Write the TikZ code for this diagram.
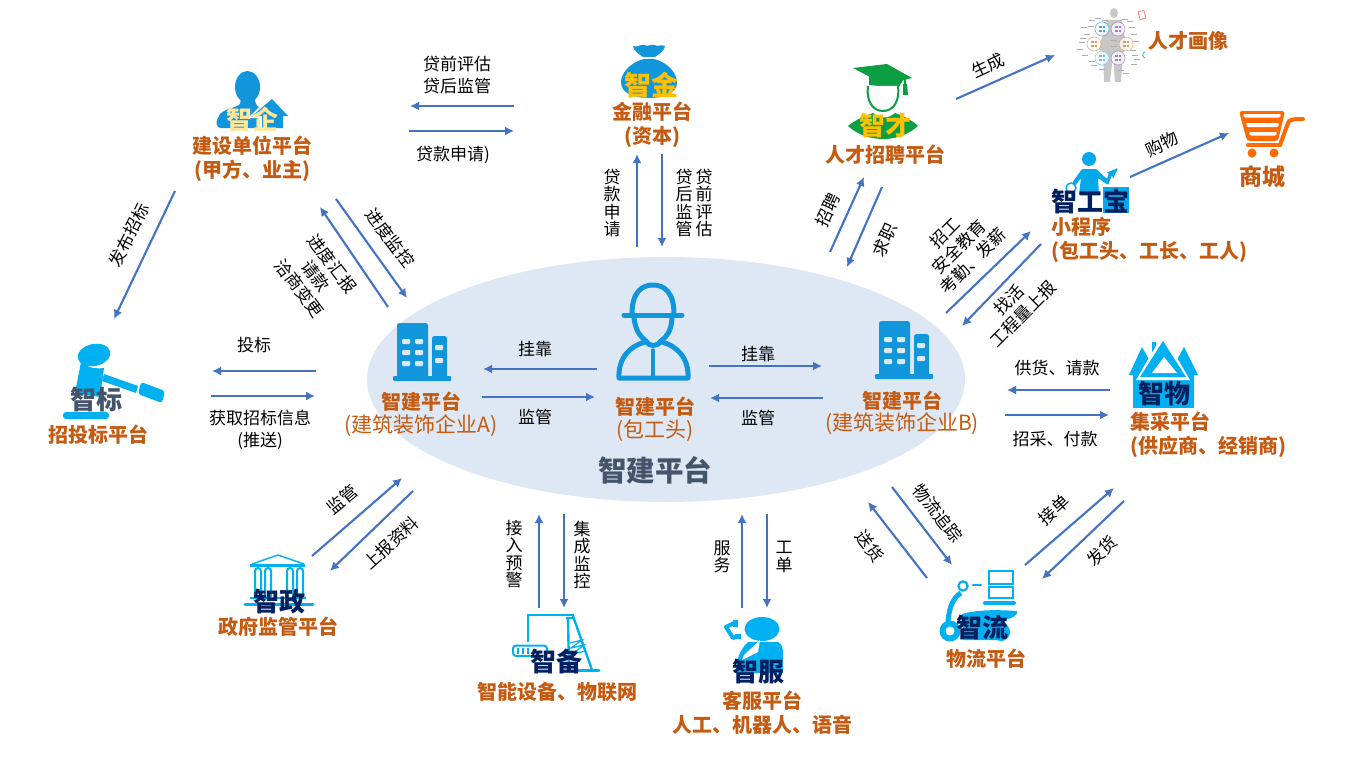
\documentclass[tikz,border=0pt]{standalone}
\usepackage{fontspec}
\setmainfont{Noto Sans CJK SC}
\usetikzlibrary{arrows.meta,calc,shapes.geometric}
\definecolor{flowblue}{HTML}{4472C4}
\definecolor{platorange}{HTML}{C55A11}
\definecolor{iconblue}{HTML}{1296DB}
\definecolor{skyblue}{HTML}{00B0F0}
\definecolor{navy}{HTML}{002060}
\definecolor{slate}{HTML}{44546A}
\definecolor{cloud}{HTML}{DEE8F4}
\definecolor{gold}{HTML}{FFC000}
\definecolor{pale}{HTML}{FFE699}
\definecolor{leaf}{HTML}{0B9E43}
\definecolor{cartorange}{HTML}{FF6A00}
\definecolor{dotblue}{HTML}{3FA9DC}
\definecolor{dotcyan}{HTML}{6CC5E0}
\definecolor{dotviolet}{HTML}{A07CC8}
\definecolor{dotorange}{HTML}{E39A62}
\newcommand{\fs}[1]{\fontsize{#1}{#1}\selectfont}
\newcommand{\flowlink}[3]{%
  \coordinate (#1-a) at #2;
  \coordinate (#1-b) at #3;
  \draw[flow] (#1-a) -- (#1-b);}
\tikzset{
  flow/.style={draw=flowblue,line width=2.1pt,-{Latex[length=9pt,width=9pt]}},
  note/.style={inner sep=0pt,align=center,text=black,font=\fontsize{17}{21.5}\selectfont},
  vnote/.style={inner sep=0pt,align=center,text=black,font=\fontsize{17}{17.6}\selectfont},
  plat/.style={inner sep=0pt,align=center,text=platorange,font=\bfseries\fontsize{20}{24}\selectfont},
  platleft/.style={plat,align=left,anchor=west},
  sub/.style={inner sep=0pt,align=center,text=platorange,font=\fontsize{21}{24}\selectfont},
  brand/.style={inner sep=0pt,align=center,font=\bfseries\fontsize{26}{26}\selectfont},
  tower/.pic={
    \fill[iconblue,rounded corners=2.5pt] (0,57) -- (0,0) -- (31,0) -- (31,57) -- cycle;
    \fill[iconblue,rounded corners=2.5pt] (35,57) -- (35,13) -- (50,13) -- (50,57) -- cycle;
    \fill[iconblue,rounded corners=1pt] (-4,53) rectangle (54,58);
    \foreach \wy in {16,27,38} {
      \fill[cloud,rounded corners=1pt] (5,\wy) rectangle (13,\wy+5);
      \fill[cloud,rounded corners=1pt] (18,\wy) rectangle (26,\wy+5);
    }
    \foreach \wy in {22,35} \fill[cloud,rounded corners=1pt] (38,\wy) rectangle (46,\wy+5);
  }
}
\begin{document}
\begin{tikzpicture}[x=1pt,y=-1pt]
\useasboundingbox (0,0) rectangle (1366,768);
\fill[white] (0,0) rectangle (1366,768);

% central platform area
\node[ellipse,minimum width=598pt,minimum height=245pt,inner sep=0pt,fill=cloud,draw=none] (hub) at (666,379.5) {};

% company towers
\pic at (397,323) {tower};
\pic at (879,321) {tower};

% site foreman
\begin{scope}[draw=iconblue,line width=5pt,line cap=round,line join=round]
  \draw (632,314) .. controls (632,292) and (642,285) .. (653,285) .. controls (664,285) and (674,292) .. (674,314);
  \draw (624,315) -- (682,315);
  \draw (634,318) .. controls (636,332) and (640,336) .. (646,341) .. controls (648,347) and (658,347) .. (661,341) .. controls (667,336) and (671,332) .. (672,318);
  \draw (645,342) .. controls (630,346) and (618,358) .. (619,378) -- (688,378) .. controls (689,358) and (677,346) .. (662,342);
  \draw[line width=3.4pt] (653,350) -- (653,377);
\end{scope}

% client with house
\fill[iconblue] (247.5,87) ellipse (12.5pt and 16pt);
\fill[iconblue] (241,99) -- (254,99) -- (257,106) .. controls (266,110) and (270,116) .. (270,128) -- (222,128) .. controls (214,128) and (216,120) .. (220,114) .. controls (226,108) and (236,108) .. (240,104) -- cycle;
\fill[white] (272,94) -- (294,118) -- (287,118) -- (287,130) -- (258,130) -- (258,118) -- (248,118) -- cycle;
\fill[iconblue] (272,99) -- (288,116) -- (283,116) -- (283,128) -- (262,128) -- (262,116) -- (252,116) -- cycle;

% gavel
\begin{scope}[skyblue]
  \fill[rotate around={12:(94,355)}] (94,355) ellipse (16.5pt and 11pt);
  \fill (81,362) .. controls (88,368) and (96,369) .. (104,368) -- (100,397) -- (75,393) -- cycle;
  \fill (104,374) -- (138,386) -- (136,393) -- (102,381) -- cycle;
  \fill[rounded corners=3pt] (141,382) -- (165,391) -- (162,403) -- (138,394) -- cycle;
  \fill[rounded corners=3pt] (63,412) rectangle (109,419);
\end{scope}

% money bag
\begin{scope}[iconblue]
  \fill (633,46) .. controls (638,48) and (640,44) .. (644,45) .. controls (648,47) and (651,44) .. (654,45) .. controls (658,47) and (661,44) .. (665,46) .. controls (665,50) and (658,55) .. (655,57) -- (643,57) .. controls (640,55) and (633,50) .. (633,46) -- cycle;
  \fill (644,59) -- (654,59) .. controls (670,63) and (677,75) .. (677,82) .. controls (677,93) and (665,98) .. (649,98) .. controls (633,98) and (621,93) .. (621,82) .. controls (621,75) and (628,63) .. (644,59) -- cycle;
\end{scope}

% graduate
\begin{scope}[leaf]
  \fill (853,68) -- (887,64) -- (912,78) -- (885,85) -- cycle;
  \fill (869,73) -- (904,79) -- (898,88) -- (869,85) -- cycle;
  \draw[line width=1.6pt] (905,76) -- (905,86);
  \fill (903,84) -- (907,84) -- (908,95) -- (903,95) -- cycle;
  \draw[line width=2pt,fill=white] (868,86) .. controls (866,100) and (872,111) .. (883,111) .. controls (894,111) and (900,100) .. (898,86);
  \fill (848,126) .. controls (855,120) and (865,116) .. (873,113) .. controls (880,119) and (888,119) .. (895,113) .. controls (903,116) and (912,120) .. (918,126) .. controls (908,135) and (895,139) .. (884,139) .. controls (870,139) and (858,135) .. (848,126) -- cycle;
\end{scope}

% talent profile chart
\begin{scope}
  \fill[black!22] (1114,13) ellipse (4pt and 5pt);
  \fill[black!22] (1106,20) -- (1122,20) -- (1127,50) -- (1123,52) -- (1121,82) -- (1115,82) -- (1113,55) -- (1110,82) -- (1104,82) -- (1103,52) -- (1099,50) -- cycle;
  \foreach \px/\py/\pc in {1102/29/dotblue,1118/29/dotviolet,1094/44/dotorange,1126/44/dotorange,1102/58/dotcyan,1118/58/dotviolet} {
    \draw[\pc,draw opacity=.7,fill=white,fill opacity=.75,line width=.7pt] (\px,\py) circle (7pt);
    \foreach \qx/\qy in {-3/-2.5,0.5/-2.5,-3/1,0.5/1}
      \fill[\pc] (\px+\qx,\py+\qy) rectangle (\px+\qx+2.5,\py+\qy+1.6);
  }
  \foreach \tx/\ty in {1098/18,1105/20,1092/20,1091/26,1084/27,1087/34,1083/38,1082/42,1080/49,1085/55,1092/61,1094/65,1102/69,1125/19,1130/21,1132/27,1134/34,1136/41,1133/50,1135/55,1137/59,1134/64,1121/70,1126/73,1114/40,1114/46} {
    \draw[black!32,line width=.8pt] (\tx-3,\ty) -- (\tx+3,\ty);
  }
  \draw[red!45,line width=.9pt,rotate around={15:(1142,15)}] (1139,11) rectangle (1145,19);
  \fill[orange!80] (1149,48) circle (1pt);
  \draw[dotblue,line width=.9pt] (1145,52) .. controls (1142,53) and (1142,57) .. (1145,58);
\end{scope}

% shopping cart
\begin{scope}[cartorange]
  \fill[rounded corners=3pt] (1239,111) -- (1285,111) -- (1278,141) -- (1247,141) -- cycle;
  \fill[white,rounded corners=1pt] (1243,114) -- (1281,114) -- (1280,117.5) -- (1244,117.5) -- cycle;
  \fill[white,rounded corners=1pt] (1246,123) -- (1279,123) -- (1278,127) -- (1247,127) -- cycle;
  \fill[white,rounded corners=1pt] (1249,132) -- (1277,132) -- (1276,135.5) -- (1250,135.5) -- cycle;
  \draw[line width=4pt,line cap=round,line join=round] (1280,145) -- (1288,123) .. controls (1289,120) and (1291,119) .. (1303,119);
  \draw[line width=4pt,line cap=round] (1248,145) -- (1280,145);
  \fill (1252,153) circle (4.5pt);
  \fill (1274,153) circle (4.5pt);
\end{scope}

% worker with rising arrow
\begin{scope}[skyblue!70!iconblue]
  \fill (1103,187) rectangle (1129,213);
  \fill (1089,159) circle (7pt);
  \fill[rounded corners=1pt] (1082,169) -- (1096,169) -- (1107,179) -- (1109,173) -- (1106,173) -- (1118,168) -- (1113,179) -- (1112,175) -- (1108,185) -- (1098,178) -- (1099,195) -- (1079,195) -- (1081,178) -- (1075,186) -- (1072,183) -- cycle;
  \draw[line width=1.4pt,fill=white] (1071,188) circle (5pt);
\end{scope}

% supplier houses
\begin{scope}[skyblue]
  \fill (1133,375) rectangle (1194,408);
  \fill (1129,375) -- (1142,347) -- (1156,372) -- (1170,372) -- (1184,347) -- (1198,375) -- cycle;
  \fill (1152,342) rectangle (1156,352);
  \fill[white] (1163,334) -- (1190,380) -- (1136,380) -- cycle;
  \fill (1163,341) -- (1186,377) -- (1140,377) -- cycle;
  \fill[white] (1164,357) -- (1177,373) -- (1152,373) -- cycle;
\end{scope}

% delivery scooter
\begin{scope}[skyblue]
  \draw[line width=2pt] (989,571) rectangle (1013,584);
  \draw[line width=2pt] (989,587) rectangle (1013,598);
  \draw[line width=4pt,line cap=round] (985,603) -- (1014,603);
  \draw[line width=2.2pt] (963,586) circle (4.6pt);
  \draw[line width=2.2pt,line cap=round] (973,585) -- (981,585);
  \draw[line width=5pt] (961,593) .. controls (954,597) and (949,606) .. (948,622);
  \fill (962,614) .. controls (980,609) and (1000,610) .. (1017,611) .. controls (1019,615) and (1012,618) .. (1005,620) -- (1005,640) -- (964,640) -- cycle;
  \fill (950,631) circle (10.5pt);
  \fill[white] (950,631) circle (4.5pt);
  \fill (1001,632) circle (9pt);
\end{scope}

% government building
\begin{scope}[skyblue]
  \draw[line width=1.4pt,line join=round] (252,564) -- (278,555) -- (304,564);
  \draw[line width=2.4pt] (250,565.5) -- (305,565.5);
  \foreach \cx in {255,265,287,297} {
    \draw[line width=2pt] (\cx,597) -- (\cx,571) arc (180:0:3pt) -- (\cx+6,597);
  }
  \draw[line width=2pt] (250,598) -- (306,598);
  \draw[line width=3pt,line cap=round] (245,604) -- (313,604);
\end{scope}

% monitoring device
\begin{scope}[skyblue]
  \draw[line width=2pt] (527,614.5) -- (574,614.5);
  \draw[line width=1.6pt] (528,615) -- (528,642);
  \draw[line width=2.4pt] (573,616) -- (592,670);
  \draw[line width=2.4pt] (566,618) -- (574,618) (568,618) -- (569,670);
  \draw[line width=1.2pt] (570,643) -- (582,640) -- (571,648) -- (584,645) -- (572,654) -- (586,651);
  \draw[line width=2pt,rounded corners=3pt] (513,645.5) rectangle (547,656);
  \draw[line width=1.4pt] (518,648) -- (518,654) (523,648) -- (523,654) (528,648) -- (528,654);
  \draw[line width=3pt,line cap=round] (577,670) -- (599,670);
\end{scope}

% service agent
\begin{scope}[skyblue]
  \fill (762,629) ellipse (17.5pt and 12pt);
  \draw[line width=4pt,line join=round] (736,622) -- (726,627) -- (733,638) -- (738,636);
  \fill (733,620) rectangle (738,627);
  \fill (735,634) rectangle (741,639);
  \fill (748,642) -- (778,642) .. controls (782,644) and (783,648) .. (783,654) -- (783,673) -- (736,673) .. controls (737,660) and (738,652) .. (748,642) -- cycle;
  \fill[white] (760,640) -- (744,655) -- (742,660) -- (758,652) -- cycle;
\end{scope}

% brand marks on the icons
\node[brand,text=pale] (bQi) at (252,119) {智企};
\node[brand,text=gold,font=\bfseries\fs{27}] (bJin) at (651,85) {智金};
\node[brand,text=gold] (bCai) at (885,126) {智才};
\node[brand,text=navy] (bGong) at (1090,201) {智工宝};
\node[brand,text=slate] (bBiao) at (96,400) {智标};
\node[brand,text=navy] (bWu) at (1164,394) {智物};
\node[brand,text=navy] (bLiu) at (982,627) {智流};
\node[brand,text=navy] (bZheng) at (279,602) {智政};
\node[brand,text=navy] (bBei) at (556,662) {智备};
\node[brand,text=navy] (bFu) at (758,672) {智服};

% platform names
\node[plat] (pClient) at (252,159) {建设单位平台\\(甲方、业主)};
\node[plat] (pFin) at (652,125) {金融平台\\(资本)};
\node[plat] (pTalent) at (885,155) {人才招聘平台};
\node[plat] (pPortrait) at (1188,41) {人才画像};
\node[plat,font=\bfseries\fs{23}] (pShop) at (1262,177) {商城};
\node[platleft] (pMini) at (1051,240) {小程序\\(包工头、工长、工人)};
\node[plat] (pBid) at (98,435) {招投标平台};
\node[platleft] (pBuy) at (1130,435) {集采平台\\(供应商、经销商)};
\node[plat] (pLog) at (986,659) {物流平台};
\node[plat] (pGov) at (278,627) {政府监管平台};
\node[plat] (pDev) at (557,692) {智能设备、物联网};
\node[plat] (pServ) at (762,713) {客服平台\\人工、机器人、语音};

\node[plat] (pA) at (421,402) {智建平台};
\node[sub] (pAs) at (421,426) {(建筑装饰企业A)};
\node[plat] (pH) at (655,407) {智建平台};
\node[sub] (pHs) at (655,431) {(包工头)};
\node[plat] (pB) at (902,401) {智建平台};
\node[sub] (pBs) at (902,424) {(建筑装饰企业B)};
\node[inner sep=0pt,text=slate,font=\bfseries\fs{28.5}] (pMain) at (655,470) {智建平台};

% connectors
\flowlink{loanA}{(514,106)}{(410,106)}
\flowlink{loanB}{(409,131)}{(514,131)}
\flowlink{finUp}{(637,247)}{(637,154)}
\flowlink{finDn}{(662,154)}{(662,247)}
\flowlink{tender}{(175,191)}{(114,319)}
\flowlink{progM}{(336,199)}{(407,298)}
\flowlink{progR}{(388,307)}{(320,207)}
\flowlink{bidA}{(316,371)}{(212,371)}
\flowlink{bidB}{(211,396)}{(315,396)}
\flowlink{hangL}{(597,369)}{(483,369)}
\flowlink{supL}{(482,397)}{(595,397)}
\flowlink{hangR}{(709,366)}{(822,366)}
\flowlink{supR}{(823,398)}{(710,398)}
\flowlink{hire}{(830,252)}{(864,177)}
\flowlink{job}{(882,187)}{(847,267)}
\flowlink{gen}{(956,99)}{(1055,55)}
\flowlink{shop}{(1130,177)}{(1229,133)}
\flowlink{recruit}{(946,313)}{(1031,231)}
\flowlink{work}{(1041,244)}{(962,326)}
\flowlink{supply}{(1110,390)}{(1007,390)}
\flowlink{buy}{(1005,415)}{(1109,415)}
\flowlink{accept}{(1025,565)}{(1114,488)}
\flowlink{ship}{(1124,501)}{(1042,579)}
\flowlink{track}{(892,487)}{(952,565)}
\flowlink{deliver}{(927,578)}{(868,502)}
\flowlink{report}{(312,556)}{(402,478)}
\flowlink{upload}{(413,491)}{(330,571)}
\flowlink{devUp}{(539,608)}{(539,514)}
\flowlink{devDn}{(564,514)}{(564,608)}
\flowlink{servUp}{(742,608)}{(742,514)}
\flowlink{servDn}{(767,514)}{(767,608)}

% connector labels
\node[note] (n1) at (457,75) {贷前评估\\贷后监管};
\node[note] (n2) at (453,155) {贷款申请)};
\node[vnote] (n3) at (612,203) {贷\\款\\申\\请};
\node[vnote] (n4) at (684,203) {贷\\后\\监\\管};
\node[vnote] (n5) at (704,203) {贷\\前\\评\\估};
\node[note,rotate=63] (n6) at (129,235) {发布招标};
\node[note,rotate=-53] (n7) at (390,238) {进度监控};
\node[note,rotate=-53,font=\fontsize{17}{20.5}\selectfont] (n8) at (316,276) {进度汇报\\请款\\洽商变更};
\node[note] (n9) at (254,345) {投标};
\node[note] (n10) at (260,430) {获取招标信息\\(推送)};
\node[note] (n11) at (535,349) {挂靠};
\node[note] (n12) at (535,417) {监管};
\node[note] (n13) at (758,354) {挂靠};
\node[note] (n14) at (758,418) {监管};
\node[note,rotate=65] (n15) at (828,210) {招聘};
\node[note,rotate=65] (n16) at (885,240) {求职};
\node[note,rotate=25] (n17) at (988,66) {生成};
\node[note,rotate=25] (n18) at (1162,144) {购物};
\node[note,rotate=45,font=\fontsize{17}{19.5}\selectfont] (n19) at (959,247) {招工\\安全教育\\考勤、发薪};
\node[note,rotate=45,font=\fontsize{17}{19.5}\selectfont] (n20) at (1016,307) {找活\\工程量上报};
\node[note] (n21) at (1057,368) {供货、请款};
\node[note] (n22) at (1055,439) {招采、付款};
\node[note,rotate=-52] (n23) at (938,513) {物流追踪};
\node[note,rotate=-52] (n24) at (870,546) {送货};
\node[note,rotate=42] (n25) at (1054,510) {接单};
\node[note,rotate=45] (n26) at (1102,551) {发货};
\node[note,rotate=40] (n27) at (342,500) {监管};
\node[note,rotate=42] (n28) at (391,543) {上报资料};
\node[vnote] (n29) at (514,554) {接\\入\\预\\警};
\node[vnote] (n30) at (582,555) {集\\成\\监\\控};
\node[vnote] (n31) at (722,557) {服\\务};
\node[vnote] (n32) at (784,557) {工\\单};
\end{tikzpicture}
\end{document}
